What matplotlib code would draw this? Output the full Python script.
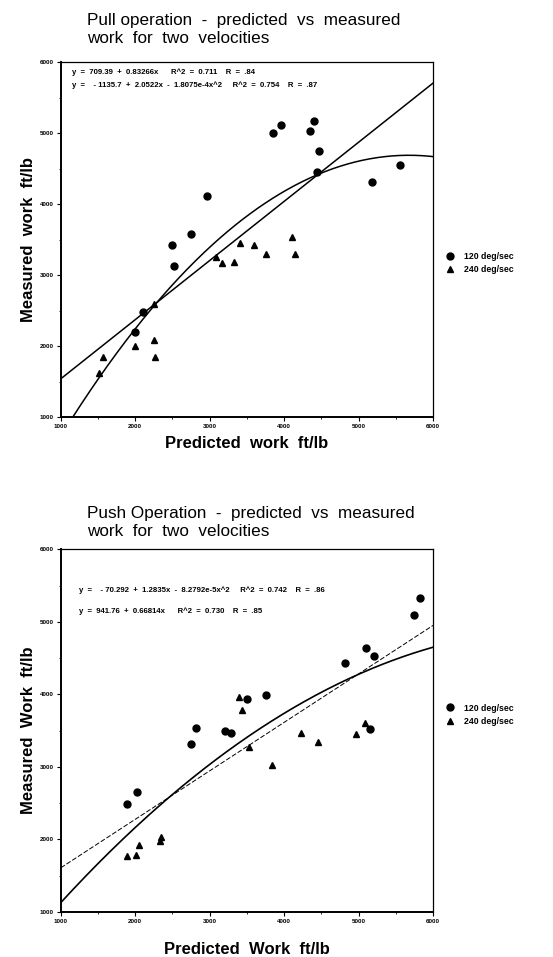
import numpy as np
import matplotlib
matplotlib.use("Agg")
import matplotlib.pyplot as plt
from matplotlib.ticker import MultipleLocator

plt.rcParams['font.family'] = ['Liberation Sans', 'DejaVu Sans']

# Pull operation data
pull_120_x = [3850, 3960, 4350, 4400, 4470, 4440, 5180, 5560, 2960, 2750, 2490, 2520, 2100, 2000]
pull_120_y = [5010, 5120, 5030, 5170, 4750, 4450, 4310, 4550, 4120, 3580, 3430, 3130, 2480, 2200]
pull_240_x = [3410, 3590, 4110, 3090, 3160, 3330, 3750, 4150, 2250, 2250, 2270, 2000, 1560, 1510]
pull_240_y = [3450, 3430, 3540, 3250, 3170, 3180, 3300, 3300, 2600, 2090, 1850, 2000, 1850, 1630]

# Push operation data
push_120_x = [5830, 5740, 5100, 5210, 4820, 3500, 3760, 2820, 2750, 3200, 3290, 5150, 1890, 2030]
push_120_y = [5330, 5100, 4640, 4530, 4430, 3930, 3990, 3540, 3320, 3500, 3470, 3520, 2490, 2650]
push_240_x = [3400, 3430, 3530, 3840, 4230, 4450, 4970, 5090, 2340, 2330, 2050, 2010, 1890]
push_240_y = [3970, 3790, 3280, 3030, 3470, 3350, 3460, 3610, 2030, 1985, 1930, 1780, 1770]

# fitted coefficients printed on the chart
pull_lin = [709.39, 0.83266]
pull_quad = [-1135.7, 2.0522, -1.8075e-4]
push_quad = [-70.292, 1.2835, -8.2792e-5]
push_lin = [941.76, 0.66814]

fig = plt.figure(figsize=(5.53, 9.57), dpi=100)
ax1 = fig.add_axes([0.110, 0.564, 0.673, 0.371])
ax2 = fig.add_axes([0.110, 0.047, 0.673, 0.379])

xs = np.linspace(1000, 6000, 300)


def style_axes(ax):
    ax.set_xlim(1000, 6000)
    ax.set_ylim(1000, 6000)
    ax.xaxis.set_major_locator(MultipleLocator(1000))
    ax.yaxis.set_major_locator(MultipleLocator(1000))
    ax.xaxis.set_minor_locator(MultipleLocator(500))
    ax.yaxis.set_minor_locator(MultipleLocator(500))
    ax.tick_params(which='major', length=3, width=0.8, labelsize=4.5, pad=2)
    ax.tick_params(which='minor', length=1.5, width=0.6)
    for lbl in ax.get_xticklabels() + ax.get_yticklabels():
        lbl.set_fontweight('bold')
    for s in ax.spines.values():
        s.set_linewidth(0.9)
    ax.spines['left'].set_linewidth(1.4)
    ax.spines['bottom'].set_linewidth(1.4)


eq_font = {'fontsize': 5.6, 'fontweight': 'bold', 'va': 'center'}
leg_prop = {'size': 6.3, 'weight': 'bold'}

# --- Pull ---
ax1.plot(pull_120_x, pull_120_y, 'o', color='black', markersize=5, label='120 deg/sec')
ax1.plot(pull_240_x, pull_240_y, '^', color='black', markersize=5, label='240 deg/sec')
ax1.plot(xs, pull_lin[0] + pull_lin[1] * xs, color='black', lw=1.1)
ax1.plot(xs, pull_quad[0] + pull_quad[1] * xs + pull_quad[2] * xs ** 2, color='black', lw=1.1)
style_axes(ax1)
ax1.text(0.03, 0.972, "y  =  709.39  +  0.83266x      R^2  =  0.711    R  =  .84",
         transform=ax1.transAxes, **eq_font)
ax1.text(0.03, 0.935, "y  =    - 1135.7  +  2.0522x  -  1.8075e-4x^2     R^2  =  0.754    R  =  .87",
         transform=ax1.transAxes, **eq_font)
ax1.set_xlabel("Predicted  work  ft/lb", fontsize=12, fontweight='bold', labelpad=5)
ax1.set_ylabel("Measured  work  ft/lb", fontsize=12, fontweight='bold', labelpad=3)
fig.text(0.157, 0.986, "Pull operation  -  predicted  vs  measured\nwork  for  two  velocities",
         fontsize=12.3, fontweight='medium', va='top', ha='left', linespacing=1.25)
ax1.legend(loc='center left', bbox_to_anchor=(1.0, 0.434), frameon=False,
           handletextpad=0.7, labelspacing=0.5, prop=leg_prop)

# --- Push ---
ax2.plot(push_120_x, push_120_y, 'o', color='black', markersize=5, label='120 deg/sec')
ax2.plot(push_240_x, push_240_y, '^', color='black', markersize=5, label='240 deg/sec')
ax2.plot(xs, push_quad[0] + push_quad[1] * xs + push_quad[2] * xs ** 2, color='black', lw=1.2)
ax2.plot(xs, push_lin[0] + push_lin[1] * xs, color='black', lw=0.7, ls=(0, (5, 2)))
style_axes(ax2)
ax2.text(0.05, 0.887, "y  =    - 70.292  +  1.2835x  -  8.2792e-5x^2     R^2  =  0.742    R  =  .86",
         transform=ax2.transAxes, **eq_font)
ax2.text(0.05, 0.829, "y  =  941.76  +  0.66814x      R^2  =  0.730    R  =  .85",
         transform=ax2.transAxes, **eq_font)
ax2.set_xlabel("Predicted  Work  ft/lb", fontsize=12, fontweight='bold', labelpad=13)
ax2.set_ylabel("Measured  Work  ft/lb", fontsize=12, fontweight='bold', labelpad=3)
fig.text(0.157, 0.471, "Push Operation  -  predicted  vs  measured\nwork  for  two  velocities",
         fontsize=12.3, fontweight='medium', va='top', ha='left', linespacing=1.25)
ax2.legend(loc='center left', bbox_to_anchor=(1.0, 0.544), frameon=False,
           handletextpad=0.7, labelspacing=0.5, prop=leg_prop)

fig.savefig("out.png", dpi=100)
